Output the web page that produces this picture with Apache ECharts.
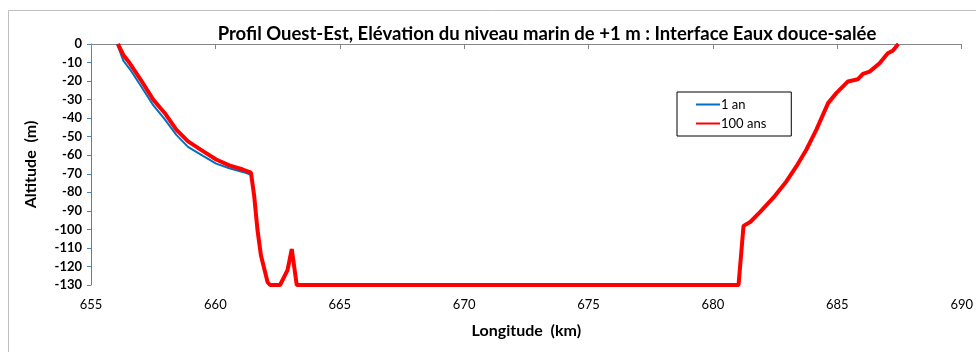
<!DOCTYPE html>
<html>
<head>
<meta charset="utf-8">
<script src="https://cdn.jsdelivr.net/npm/echarts@6/dist/echarts.min.js"></script>
<style>
  html, body { margin: 0; padding: 0; background: #fff; }
  #chart { width: 976px; height: 352px; }
</style>
</head>
<body>
<div id="chart"></div>
<script>
// profil ouest-est, interface eaux douce-salée
const seriesNames = ['1 an', '100 ans'];

// 1 an (blue), a bit lower on the west slope
const blueLon = [656.05, 656.3, 656.56, 657.0, 657.5, 657.96, 658.43, 658.9, 659.5, 660.03, 660.56, 661.1, 661.43,
  661.56, 661.69, 661.83, 662.1, 662.2, 662.6, 662.9, 663.07, 663.27, 681.03, 681.23, 681.5, 681.9, 682.43,
  682.96, 683.36, 683.76, 684.16, 684.63, 684.96, 685.43, 685.83, 686.03, 686.3, 686.7, 687.03, 687.23, 687.45];
const blueAlt = [0, -9, -13.5, -22.5, -33, -40.5, -49, -55.5, -60.3, -64.5, -67, -69, -70.5,
  -82, -100, -114, -128.5, -130, -130, -122, -110.6, -130, -130, -98.1, -96, -90.6, -82.9,
  -74, -65.9, -56.9, -46.2, -31.9, -26.5, -20.2, -19, -16.1, -14.9, -10.4, -5, -3.6, 0];

// 100 ans (red)
const redLon = [656.08, 656.3, 656.56, 657.0, 657.5, 657.96, 658.43, 658.9, 659.5, 660.03, 660.56, 661.1, 661.43,
  661.56, 661.69, 661.83, 662.1, 662.2, 662.6, 662.9, 663.07, 663.27, 681.03, 681.23, 681.5, 681.9, 682.43,
  682.96, 683.36, 683.76, 684.16, 684.63, 684.96, 685.43, 685.83, 686.03, 686.3, 686.7, 687.03, 687.23, 687.45];
const redAlt = [0, -5.9, -10.4, -19.3, -30, -37.2, -46.2, -52.5, -57.8, -62.3, -65.5, -67.7, -69.4,
  -82, -100, -114, -128.5, -130, -130, -122, -110.6, -130, -130, -98.1, -96, -90.6, -82.9,
  -74, -65.9, -56.9, -46.2, -31.9, -26.5, -20.2, -19, -16.1, -14.9, -10.4, -5, -3.6, 0];

const font = 'Lato, "Liberation Sans", sans-serif';

const chart = echarts.init(document.getElementById('chart'));
chart.setOption({
  animation: false,
  textStyle: { fontFamily: font },
  graphic: [{
    type: 'rect',
    shape: { x: 8.5, y: 10.5, width: 1000, height: 400 },
    style: { fill: 'none', stroke: '#bfbfbf', lineWidth: 1 },
    silent: true,
    z: -1
  }],
  title: {
    text: 'Profil Ouest-Est, Elévation du niveau marin de +1 m : Interface Eaux douce-salée',
    left: 542,
    textAlign: 'center',
    top: 20,
    textStyle: { fontSize: 18.5, fontWeight: 'bold', color: '#000', fontFamily: font }
  },
  legend: {
    orient: 'vertical',
    left: 677,
    top: 92,
    padding: [6, 25, 6, 18],
    itemGap: 6,
    itemWidth: 24,
    itemHeight: 10,
    borderColor: '#000',
    borderWidth: 1,
    itemStyle: { opacity: 0 },
    data: seriesNames,
    textStyle: { fontSize: 13, color: '#000', fontFamily: font, padding: [0, 0, 0, -4] }
  },
  grid: { left: 91, right: 10, top: 44, bottom: 67 },
  xAxis: {
    type: 'value',
    min: 655,
    max: 690,
    interval: 5,
    name: 'Longitude  (km)',
    nameLocation: 'middle',
    nameGap: 38,
    nameTextStyle: { fontSize: 16, fontWeight: 'bold', color: '#000' },
    axisLine: { lineStyle: { color: '#868686' } },
    axisTick: { show: true, length: 5, lineStyle: { color: '#868686' } },
    axisLabel: { fontSize: 13, color: '#000', margin: 13 },
    splitLine: { show: false }
  },
  yAxis: {
    type: 'value',
    min: -130,
    max: 0,
    interval: 10,
    name: 'Altitude  (m)',
    nameLocation: 'middle',
    nameGap: 52,
    nameTextStyle: { fontSize: 16, fontWeight: 'bold', color: '#000' },
    axisLine: { show: true, lineStyle: { color: '#4f81bd' } },
    axisTick: { show: true, length: 4, lineStyle: { color: '#4f81bd' } },
    axisLabel: { fontSize: 13, fontWeight: 'bold', color: '#000', margin: 9 },
    splitLine: { show: false }
  },
  series: [
    {
      name: seriesNames[0],
      type: 'line',
      showSymbol: false,
      symbol: 'none',
      color: '#0070c0',
      lineStyle: { width: 2, color: '#0070c0' },
      data: blueLon.map((x, i) => [x, blueAlt[i]]),
      z: 2
    },
    {
      name: seriesNames[1],
      type: 'line',
      showSymbol: false,
      symbol: 'none',
      color: '#ff0000',
      lineStyle: { width: 4, color: '#ff0000' },
      data: redLon.map((x, i) => [x, redAlt[i]]),
      z: 3
    }
  ]
});
</script>
</body>
</html>
